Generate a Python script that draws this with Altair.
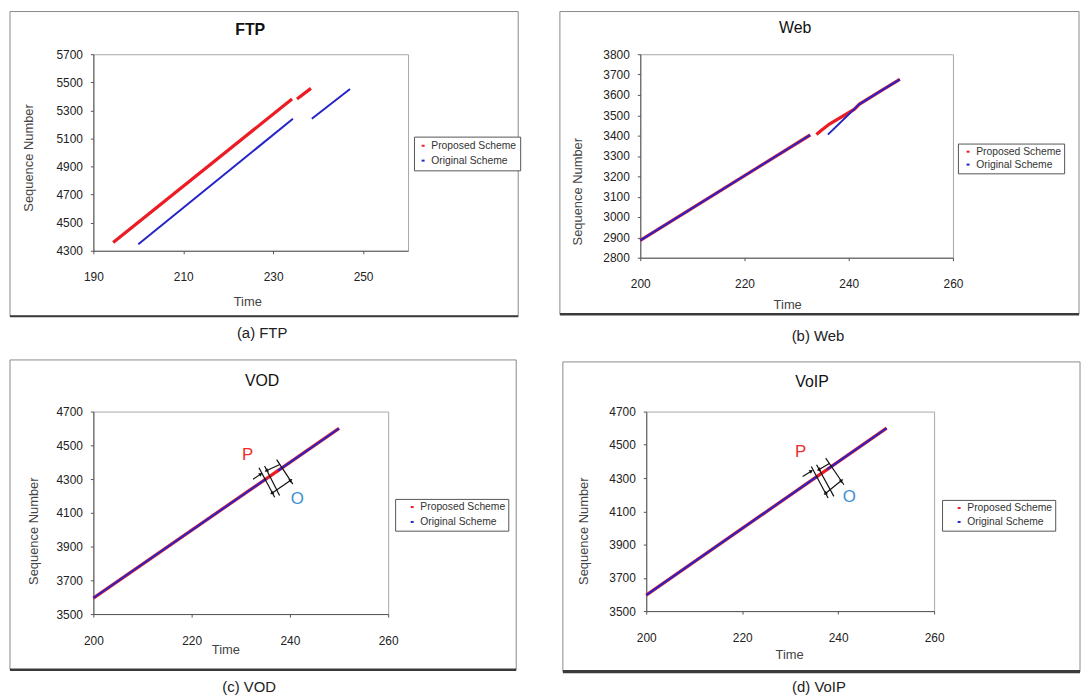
import altair as alt
import pandas as pd

FONT = "Liberation Sans"
RED = "#ec1c24"
BLUE = "#2424c8"
SCHEMES = ["Proposed Scheme", "Original Scheme"]

# ---------------- (a) FTP ----------------
ftp_p_seg = [1, 1, 2, 2]
ftp_p_time = [194.4, 234.2, 235.3, 238.4]
ftp_p_seq = [4359, 5381, 5381, 5457]
ftp_o_seg = [1, 1, 2, 2]
ftp_o_time = [200.0, 234.4, 238.6, 247.1]
ftp_o_seq = [4347, 5240, 5240, 5452]
ftp_x_ticks = [190, 210, 230, 250]
ftp_y_ticks = [4300, 4500, 4700, 4900, 5100, 5300, 5500, 5700]

# ---------------- (b) Web ----------------
web_p_seg = [1, 1, 2, 2, 2, 2, 2, 2, 2, 2, 2]
web_p_time = [200.0, 232.6, 233.8, 234.7, 236.3, 237.9, 239.5, 241.1, 242.0, 246.0, 249.8]
web_p_seq = [2885, 3403, 3405, 3425, 3457, 3481, 3505, 3530, 3554, 3617, 3676]
web_o_seg = [1, 1, 2, 2, 2, 2]
web_o_time = [200.0, 232.6, 236.0, 242.0, 246.0, 249.8]
web_o_seq = [2885, 3403, 3405, 3554, 3617, 3676]
web_x_ticks = [200, 220, 240, 260]
web_y_ticks = [2800, 2900, 3000, 3100, 3200, 3300, 3400, 3500, 3600, 3700, 3800]

# ---------------- (c) VOD ----------------
vod_p_seg = [1, 1]
vod_p_time = [200.0, 250.0]
vod_p_seq = [3595, 4600]
vod_o_seg = [1, 1, 2, 2]
vod_o_time = [200.0, 235.2, 237.6, 250.0]
vod_o_seq = [3595, 4302, 4350, 4600]
vod_x_ticks = [200, 220, 240, 260]
vod_y_ticks = [3500, 3700, 3900, 4100, 4300, 4500, 4700]
# annotation (data units): slanted bars and dimension arrows
vod_bar_t1 = [233.7, 234.85, 237.3, 232.5, 237.96, 236.4]
vod_bar_s1 = [4367, 4377, 4415, 4299, 4386, 4218]
vod_bar_t2 = [236.9, 237.9, 240.6, 234.0, 235.3, 240.1]
vod_bar_s2 = [4192, 4202, 4270, 4328, 4351, 4292]
vod_head_t = [234.0, 235.3, 240.1, 236.4]
vod_head_s = [4328, 4351, 4292, 4218]
vod_head_ang = [56, 245, 55, 235]
vod_p_label = [231.4, 4442]
vod_o_label = [241.5, 4180]

# ---------------- (d) VoIP ----------------
voip_p_seg = [1, 1]
voip_p_time = [200.0, 250.1]
voip_p_seq = [3596, 4600]
voip_o_seg = [1, 1, 2, 2]
voip_o_time = [200.0, 235.7, 237.7, 250.1]
voip_o_seq = [3596, 4312, 4352, 4600]
voip_x_ticks = [200, 220, 240, 260]
voip_y_ticks = [3500, 3700, 3900, 4100, 4300, 4500, 4700]
voip_bar_t1 = [234.4, 235.5, 237.4, 232.6, 238.16, 237.4]
voip_bar_s1 = [4370, 4380, 4420, 4310, 4388, 4208.5]
voip_bar_t2 = [237.9, 239.1, 241.2, 234.3, 236.04, 240.63]
voip_bar_s2 = [4180, 4190, 4260, 4340, 4351.5, 4284]
voip_head_t = [234.3, 236.04, 240.63, 237.4]
voip_head_s = [4340, 4351.5, 4284, 4208.5]
voip_head_ang = [56, 245, 55, 235]
voip_p_label = [232.2, 4458]
voip_o_label = [242.3, 4188]


def one(text):
    return pd.DataFrame({"t": [text]})


def make_panel(d):
    xs = alt.Scale(domain=d["xdom"], nice=False, zero=False)
    ys = alt.Scale(domain=d["ydom"], nice=False, zero=False)
    x_axis = alt.Axis(values=d["xticks"], title="Time", format="d", tickSize=3,
                      labelFlush=False, labelOverlap=False,
                      labelPadding=d["xlabpad"], titleX=d["xtitle"][0], titleY=d["xtitle"][1],
                      titleAngle=0, titleBaseline="middle", titleAlign="center")
    y_axis = alt.Axis(values=d["yticks"], title="Sequence Number", format="d", tickSize=3,
                      labelFlush=False, labelOverlap=False,
                      labelPadding=8, titleX=d["ytitle"][0], titleY=d["ytitle"][1],
                      titleAngle=270, titleBaseline="middle", titleAlign="center")
    lp, lrow, loff = d["legstyle"]
    color = alt.Color(
        "Scheme:N",
        scale=alt.Scale(domain=SCHEMES, range=[RED, BLUE]),
        legend=alt.Legend(orient="none", legendX=d["legend"][0], legendY=d["legend"][1],
                          direction="vertical", title=None, strokeColor="#555",
                          fillColor="white", padding=lp, labelFont=FONT,
                          labelFontSize=10.4, labelColor="#333", labelOffset=3,
                          labelLimit=300, symbolType="stroke", symbolSize=9,
                          symbolOffset=loff, symbolStrokeWidth=2, rowPadding=lrow),
    )

    pdf = pd.DataFrame({"Time": d["p_time"], "Seq": d["p_seq"], "seg": d["p_seg"],
                        "Scheme": "Proposed Scheme"})
    odf = pd.DataFrame({"Time": d["o_time"], "Seq": d["o_seq"], "seg": d["o_seg"],
                        "Scheme": "Original Scheme"})

    fx0, fy0, fx1, fy1 = d["frame"]
    layers = []
    layers.append(alt.Chart(one("f")).mark_rect(fillOpacity=0, stroke="#8a8a8a", strokeWidth=1).encode(
        x=alt.value(fx0), x2=alt.value(fx1), y=alt.value(fy0), y2=alt.value(fy1)))
    layers.append(alt.Chart(one("s")).mark_rule(color="#3a3a3a", strokeWidth=d["shadow"]).encode(
        x=alt.value(fx0), x2=alt.value(fx1), y=alt.value(fy1)))

    layers.append(alt.Chart(pdf).mark_line(strokeWidth=3.3).encode(
        x=alt.X("Time:Q", scale=xs, axis=x_axis),
        y=alt.Y("Seq:Q", scale=ys, axis=y_axis),
        color=color, detail="seg:N"))
    layers.append(alt.Chart(odf).mark_line(strokeWidth=2).encode(
        x=alt.X("Time:Q", scale=xs, axis=x_axis),
        y=alt.Y("Seq:Q", scale=ys, axis=y_axis),
        color=color, detail="seg:N"))

    if "bar_t1" in d:
        bars = pd.DataFrame({"Time": d["bar_t1"], "Seq": d["bar_s1"],
                             "Time2": d["bar_t2"], "Seq2": d["bar_s2"]})
        layers.append(alt.Chart(bars).mark_rule(color="#111", strokeWidth=1.2).encode(
            x=alt.X("Time:Q", scale=xs, axis=x_axis),
            y=alt.Y("Seq:Q", scale=ys, axis=y_axis),
            x2="Time2:Q", y2="Seq2:Q"))
        heads = pd.DataFrame({"Time": d["head_t"], "Seq": d["head_s"], "ang": d["head_ang"]})
        layers.append(alt.Chart(heads).mark_point(shape="triangle", filled=True, color="#111",
                                                   size=18, opacity=1).encode(
            x=alt.X("Time:Q", scale=xs, axis=x_axis),
            y=alt.Y("Seq:Q", scale=ys, axis=y_axis),
            angle=alt.Angle("ang:Q", scale=None)))
        pl = pd.DataFrame({"Time": [d["p_label"][0]], "Seq": [d["p_label"][1]], "t": ["P"]})
        ol = pd.DataFrame({"Time": [d["o_label"][0]], "Seq": [d["o_label"][1]], "t": ["O"]})
        layers.append(alt.Chart(pl).mark_text(font=FONT, fontSize=17, color="#ee2a2a").encode(
            x=alt.X("Time:Q", scale=xs, axis=x_axis),
            y=alt.Y("Seq:Q", scale=ys, axis=y_axis), text="t:N"))
        layers.append(alt.Chart(ol).mark_text(font=FONT, fontSize=17, color="#3b8fd6").encode(
            x=alt.X("Time:Q", scale=xs, axis=x_axis),
            y=alt.Y("Seq:Q", scale=ys, axis=y_axis), text="t:N"))

    tt, tx, ty, tw = d["title"]
    layers.append(alt.Chart(one(tt)).mark_text(font=FONT, fontSize=16, fontWeight=tw,
                                               color="#111", align="center", baseline="middle").encode(
        x=alt.value(tx), y=alt.value(ty), text="t:N"))
    ct, cx, cy = d["caption"]
    layers.append(alt.Chart(one(ct)).mark_text(font=FONT, fontSize=15, color="#222",
                                               align="center", baseline="middle").encode(
        x=alt.value(cx), y=alt.value(cy), text="t:N"))

    return alt.layer(*layers).properties(width=d["w"], height=d["h"])


panel_a = make_panel(dict(
    p_time=ftp_p_time, p_seq=ftp_p_seq, p_seg=ftp_p_seg,
    o_time=ftp_o_time, o_seq=ftp_o_seq, o_seg=ftp_o_seg,
    xdom=[190, 260], ydom=[4300, 5700], xticks=ftp_x_ticks, yticks=ftp_y_ticks,
    w=317, h=198, frame=(-84, -43, 428, 264), shadow=2,
    title=("FTP", 158, -24, "bold"), caption=("(a) FTP", 170, 281),
    legend=(323, 83), legstyle=(4, 4, 0), xlabpad=18, xtitle=(155, 51), ytitle=(-65, 104)))

panel_b = make_panel(dict(
    p_time=web_p_time, p_seq=web_p_seq, p_seg=web_p_seg,
    o_time=web_o_time, o_seq=web_o_seq, o_seg=web_o_seg,
    xdom=[200, 260], ydom=[2800, 3800], xticks=web_x_ticks, yticks=web_y_ticks,
    w=315, h=205, frame=(-81, -43, 442, 262), shadow=2.5,
    title=("Web", 156, -26, "normal"), caption=("(b) Web", 179, 284),
    legend=(320, 90), legstyle=(3, 2, 2), xlabpad=18, xtitle=(148, 47), ytitle=(-63, 138)))

panel_c = make_panel(dict(
    p_time=vod_p_time, p_seq=vod_p_seq, p_seg=vod_p_seg,
    o_time=vod_o_time, o_seq=vod_o_seq, o_seg=vod_o_seg,
    xdom=[200, 260], ydom=[3500, 4700], xticks=vod_x_ticks, yticks=vod_y_ticks,
    w=297, h=204, frame=(-84, -52, 426, 260), shadow=2.5,
    title=("VOD", 170, -31, "normal"), caption=("(c) VOD", 157, 278),
    legend=(304, 88), legstyle=(3, 4, 9), xlabpad=19, xtitle=(133, 36), ytitle=(-60, 120),
    bar_t1=vod_bar_t1, bar_s1=vod_bar_s1, bar_t2=vod_bar_t2, bar_s2=vod_bar_s2,
    head_t=vod_head_t, head_s=vod_head_s, head_ang=vod_head_ang,
    p_label=vod_p_label, o_label=vod_o_label))

panel_d = make_panel(dict(
    p_time=voip_p_time, p_seq=voip_p_seq, p_seg=voip_p_seg,
    o_time=voip_o_time, o_seq=voip_o_seq, o_seg=voip_o_seg,
    xdom=[200, 260], ydom=[3500, 4700], xticks=voip_x_ticks, yticks=voip_y_ticks,
    w=290, h=201, frame=(-84, -50, 437, 262), shadow=3.5,
    title=("VoIP", 167, -30, "normal"), caption=("(d) VoIP", 174, 278),
    legend=(298, 89), legstyle=(3, 3, 9), xlabpad=19, xtitle=(144, 44), ytitle=(-63, 120),
    bar_t1=voip_bar_t1, bar_s1=voip_bar_s1, bar_t2=voip_bar_t2, bar_s2=voip_bar_s2,
    head_t=voip_head_t, head_s=voip_head_s, head_ang=voip_head_ang,
    p_label=voip_p_label, o_label=voip_o_label))

row1 = alt.hconcat(panel_a, panel_b, spacing=37).resolve_scale(color="independent").resolve_legend(color="independent")
row2 = alt.hconcat(panel_c, panel_d, spacing=42).resolve_scale(color="independent").resolve_legend(color="independent")

chart = (
    alt.vconcat(row1, row2, spacing=14)
    .resolve_scale(color="independent")
    .resolve_legend(color="independent")
    .properties(padding=0, background="white")
    .configure_view(stroke="#a8a8a8")
    .configure_axis(domainColor="#555", tickColor="#555", labelFont=FONT, labelFontSize=12,
                    labelColor="#222", titleFont=FONT, titleFontSize=13, titleFontWeight="normal",
                    titleColor="#444", grid=False)
)

chart.save("out.html", embed_options={"renderer": "svg", "actions": False})
